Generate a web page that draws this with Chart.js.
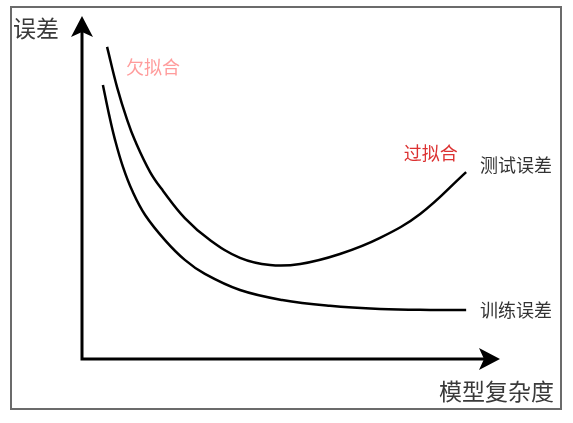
<!DOCTYPE html>
<html lang="zh">
<head>
    <meta charset="UTF-8">
    <title>误差与模型复杂度</title>
    <script src="https://cdn.jsdelivr.net/npm/chart.js"></script>
    <style>
        body {
            margin: 0;
            background: #fff;
            overflow: hidden;
        }
    </style>
</head>
<body>
    <canvas id="fitChart" width="573" height="423"></canvas>

    <script>
        // Данные кривых (модельная сложность 0..100, ошибка 0..100)
        const complexityTest = [6.0, 8.4, 10.8, 12.7, 16.3, 19.4, 24.6, 30.6, 37.8, 45.0, 52.2, 61.7, 71.3, 80.9, 91.9];
        const testError      = [91.0, 79.2, 69.7, 63.6, 54.5, 49.0, 41.1, 34.7, 29.5, 27.4, 27.7, 30.6, 35.3, 42.3, 54.5];
        const complexityTrain = [5.0, 6.5, 7.9, 9.8, 12.0, 15.1, 19.9, 24.6, 29.4, 37.8, 47.9, 59.3, 71.3, 83.3, 91.9];
        const trainError      = [79.9, 71.1, 63.9, 56.0, 49.1, 42.0, 34.6, 28.9, 24.8, 20.1, 17.2, 15.5, 14.6, 14.3, 14.3];

        const seriesNames = ['测试误差', '训练误差'];
        const zoneNames = ['欠拟合', '过拟合'];
        const axisNames = { x: '模型复杂度', y: '误差' };

        const FONT = '"Noto Sans CJK SC", "Noto Sans", sans-serif';

        function toPoints(xs, ys) {
            return xs.map((x, i) => ({ x: x, y: ys[i] }));
        }

        function arrowHead(ctx, tipX, tipY, dir) {
            // dir: 'up' или 'right'
            const len = 21, half = 11, notch = 5;
            ctx.beginPath();
            if (dir === 'up') {
                ctx.moveTo(tipX, tipY);
                ctx.lineTo(tipX + half, tipY + len);
                ctx.lineTo(tipX, tipY + len - notch);
                ctx.lineTo(tipX - half, tipY + len);
            } else {
                ctx.moveTo(tipX, tipY);
                ctx.lineTo(tipX - len, tipY - half);
                ctx.lineTo(tipX - len + notch, tipY);
                ctx.lineTo(tipX - len, tipY + half);
            }
            ctx.closePath();
            ctx.fill();
        }

        // Рамка, оси со стрелками и подписи
        const decorPlugin = {
            id: 'decor',
            beforeDatasetsDraw(chart) {
                const ctx = chart.ctx;
                const a = chart.chartArea;
                ctx.save();
                // рамка картинки
                ctx.strokeStyle = '#6b6b6b';
                ctx.lineWidth = 2;
                ctx.strokeRect(11, 7, 550, 402);

                // оси
                ctx.strokeStyle = '#000';
                ctx.fillStyle = '#000';
                ctx.lineWidth = 3;
                ctx.lineCap = 'butt';
                ctx.beginPath();
                ctx.moveTo(a.left, a.top + 14);
                ctx.lineTo(a.left, a.bottom);
                ctx.lineTo(a.right - 14, a.bottom);
                ctx.stroke();
                arrowHead(ctx, a.left, a.top, 'up');
                arrowHead(ctx, a.right, a.bottom, 'right');
                ctx.restore();
            },
            afterDatasetsDraw(chart) {
                const ctx = chart.ctx;
                const a = chart.chartArea;
                const xs = chart.scales.x, ys = chart.scales.y;
                ctx.save();
                ctx.textBaseline = 'middle';
                ctx.textAlign = 'left';

                // подписи осей
                ctx.fillStyle = '#3a3a3a';
                ctx.font = '23px ' + FONT;
                ctx.fillText(axisNames.y, a.left - 69, a.top + 12);
                ctx.textAlign = 'right';
                ctx.fillText(axisNames.x, a.right + 54, a.bottom + 32);

                // подписи кривых
                ctx.textAlign = 'left';
                ctx.font = '18px ' + FONT;
                ctx.fillStyle = '#333';
                ctx.fillText(seriesNames[0], xs.getPixelForValue(95.2), ys.getPixelForValue(56.6));
                ctx.fillText(seriesNames[1], xs.getPixelForValue(95.2), ys.getPixelForValue(14.3));

                // зоны
                ctx.fillStyle = '#ff9c9c';
                ctx.fillText(zoneNames[0], xs.getPixelForValue(10.5), ys.getPixelForValue(85.1));
                ctx.fillStyle = '#dc3232';
                ctx.fillText(zoneNames[1], xs.getPixelForValue(77.0), ys.getPixelForValue(60.1));
                ctx.restore();
            }
        };

        const ctx = document.getElementById('fitChart').getContext('2d');
        const chart = new Chart(ctx, {
            type: 'scatter',
            data: {
                datasets: [
                    {
                        label: seriesNames[0],
                        data: toPoints(complexityTest, testError),
                        showLine: true,
                        borderColor: '#000',
                        borderWidth: 2.5,
                        pointRadius: 0,
                        tension: 0.4
                    },
                    {
                        label: seriesNames[1],
                        data: toPoints(complexityTrain, trainError),
                        showLine: true,
                        borderColor: '#000',
                        borderWidth: 2.5,
                        pointRadius: 0,
                        tension: 0.4
                    }
                ]
            },
            options: {
                responsive: false,
                animation: false,
                layout: {
                    padding: { left: 82, top: 16, right: 73, bottom: 64 }
                },
                scales: {
                    x: { type: 'linear', min: 0, max: 100, display: false },
                    y: { type: 'linear', min: 0, max: 100, display: false }
                },
                plugins: {
                    legend: { display: false },
                    tooltip: { enabled: false }
                }
            },
            plugins: [decorPlugin]
        });
    </script>
</body>
</html>
